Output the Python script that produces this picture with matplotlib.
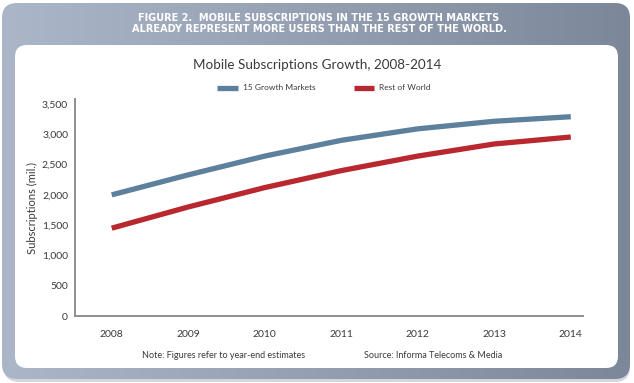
import numpy as np
import matplotlib
matplotlib.use("Agg")
import matplotlib.pyplot as plt
from matplotlib.patches import FancyBboxPatch
from matplotlib.ticker import FuncFormatter

# Data (millions of subscriptions)
years = [2008, 2009, 2010, 2011, 2012, 2013, 2014]
growth_markets = [2000, 2330, 2640, 2900, 3090, 3215, 3290]
rest_of_world = [1450, 1800, 2120, 2400, 2640, 2840, 2955]

header = "FIGURE 2.  MOBILE SUBSCRIPTIONS IN THE 15 GROWTH MARKETS\nALREADY REPRESENT MORE USERS THAN THE REST OF THE WORLD."
title = "Mobile Subscriptions Growth, 2008-2014"
note = "Note: Figures refer to year-end estimates"
source = "Source: Informa Telecoms & Media"

BLUE = "#5d809d"
RED = "#b8282e"
TEXT = "#3a3a3a"
W, H = 634, 383

plt.rcParams['font.family'] = ['Lato', 'DejaVu Sans']

fig = plt.figure(figsize=(W / 100, H / 100), dpi=100)
fig.patch.set_facecolor("white")

# background frame in pixel coordinates
bg = fig.add_axes([0, 0, 1, 1])
bg.set_xlim(0, W)
bg.set_ylim(H, 0)
bg.axis("off")

shadow = FancyBboxPatch((4, 6), 626, 376, boxstyle="round,pad=0,rounding_size=15",
                        facecolor="#d3d7dd", edgecolor="none", zorder=0)
bg.add_patch(shadow)
outer = FancyBboxPatch((2, 3), 628, 376, boxstyle="round,pad=0,rounding_size=15",
                       facecolor="none", edgecolor="none", zorder=1)
bg.add_patch(outer)
grad = np.linspace(0, 1, 256).reshape(1, -1)
cmap = matplotlib.colors.LinearSegmentedColormap.from_list("frame", ["#abb7c8", "#7d879a"])
im = bg.imshow(grad, extent=[2, 630, 379, 3], cmap=cmap, aspect="auto", zorder=1)
im.set_clip_path(outer)
inner = FancyBboxPatch((15, 45), 603, 323, boxstyle="round,pad=0,rounding_size=12",
                       facecolor="white", edgecolor="none", zorder=2)
bg.add_patch(inner)

bg.text(319, 23.5, header, color="white", fontsize=7.8, fontweight="bold", ha="center",
        va="center", linespacing=1.05, family=['DejaVu Sans'], fontstretch="condensed", zorder=3)
bg.text(317, 65, title, color=TEXT, fontsize=9.7, ha="center", va="center", zorder=3)
bg.text(224, 356, note, color=TEXT, fontsize=6.5, ha="center", va="center", zorder=3)
bg.text(433, 356, source, color=TEXT, fontsize=6.5, ha="center", va="center", zorder=3)

# main chart axes
left, right, bottom, top = 75, 583, 316, 99
ax = fig.add_axes([left / W, (H - bottom) / H, (right - left) / W, (bottom - top) / H])
ax.patch.set_alpha(0)

ax.plot(years, growth_markets, color=BLUE, lw=3.8, solid_capstyle="butt", label="15 Growth Markets")
ax.plot(years, rest_of_world, color=RED, lw=3.8, solid_capstyle="butt", label="Rest of World")

ax.set_xlim(2007.52, 2014.16)
ax.set_ylim(0, 3500 * (bottom - top) / (bottom - 104))
ax.set_xticks(years)
ax.set_yticks(range(0, 3501, 500))
ax.yaxis.set_major_formatter(FuncFormatter(lambda v, p: f"{int(v):,}"))
ax.tick_params(length=0, labelsize=7.5, labelcolor=TEXT)
ax.tick_params(axis="x", pad=10)
ax.tick_params(axis="y", pad=5)
for s in ["top", "right"]:
    ax.spines[s].set_visible(False)
for s in ["left", "bottom"]:
    ax.spines[s].set_color("#8e8e8e")
    ax.spines[s].set_linewidth(1.4)

ax.set_ylabel("Subscriptions (mil.)", fontsize=8, color=TEXT, labelpad=3)

ax.legend(loc="lower center", bbox_to_anchor=(0.49, 1.0), ncol=2, frameon=False,
          fontsize=6, handlelength=2.5, handletextpad=0.6, columnspacing=4.6,
          labelcolor=TEXT)

fig.savefig("out.png", dpi=100)
